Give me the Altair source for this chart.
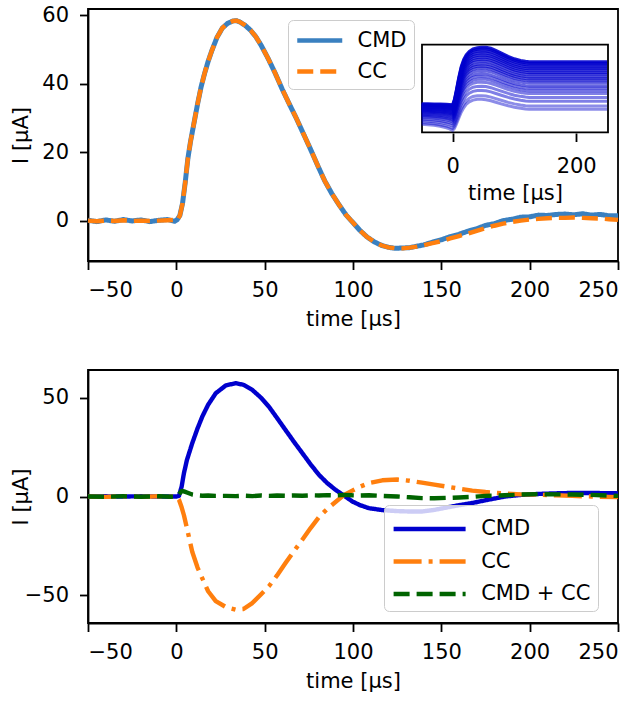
import altair as alt
import pandas as pd

FONT = "DejaVu Sans"

# ---------------- top panel data ----------------
top_t = [-50, -45, -40, -35, -30, -25, -20, -15, -10, -5, -1, 0.5, 2, 3.5, 5, 6.5, 8, 10, 12, 14,
         16, 18, 20, 23, 26, 29, 32, 34, 36, 39, 42, 45, 48, 52, 56, 60, 64, 68, 72, 76,
         80, 84, 88, 92, 96, 100, 104, 108, 112, 116, 120, 124, 128, 132, 136, 140, 145, 150, 155, 160,
         165, 170, 175, 180, 185, 190, 195, 200, 205, 210, 215, 220, 225, 230, 235, 240, 245, 250]
top_cmd = [0.1, -0.3, 0.2, -0.2, 0.3, -0.1, 0.2, -0.3, 0.1, 0.3, -0.2, 0.3, 1.5, 5.0, 11.0, 18.0, 23.0, 28.5, 34.0, 39.0,
           43.0, 46.5, 49.5, 53.5, 56.2, 57.6, 58.3, 58.4, 58.0, 57.0, 55.6, 53.7, 51.2, 47.3, 43.0, 38.3, 34.0, 29.8, 25.3, 20.8,
           16.1, 11.6, 7.9, 4.7, 1.7, -0.6, -2.9, -4.8, -6.2, -7.2, -7.8, -8.1, -8.0, -7.9, -7.5, -7.1, -6.3, -5.6, -4.7, -4.0,
           -3.1, -2.4, -1.4, -0.9, 0.0, 0.4, 1.0, 1.1, 1.6, 1.5, 1.8, 1.9, 1.7, 2.0, 1.6, 1.8, 1.4, 1.4]
top_cc = [0.0, -0.2, 0.0, -0.1, 0.1, -0.1, 0.0, -0.1, 0.0, 0.1, 0.2, 0.0, 1.5, 5.0, 11.0, 18.0, 23.0, 28.5, 34.0, 39.0,
          43.0, 46.5, 49.5, 53.5, 56.2, 57.6, 58.3, 58.4, 58.0, 57.0, 55.6, 53.7, 51.2, 47.3, 43.0, 38.3, 34.0, 29.8, 25.3, 20.8,
          16.1, 11.6, 7.9, 4.7, 1.7, -0.6, -2.9, -4.8, -6.2, -7.2, -7.8, -8.1, -8.1, -7.9, -7.6, -7.2, -6.6, -6.0, -5.2, -4.5,
          -3.8, -3.0, -2.2, -1.5, -0.9, -0.4, 0.0, 0.3, 0.5, 0.7, 0.8, 0.8, 0.9, 0.8, 0.7, 0.6, 0.4, 0.2]

# ---------------- bottom panel data ----------------
bot_t = [-50, -40, -30, -20, -10, -3, 0, 1.5, 3, 4.3, 6, 9, 12, 14.7, 18, 22.3, 28, 33.6, 38, 43,
         48, 52.4, 57, 61.8, 66.5, 71.3, 76, 80.7, 85.4, 90.1, 95, 99.6, 104, 109, 116.6, 125, 132, 139, 146, 153,
         160, 167.5, 175, 186, 195, 205, 215, 224, 235, 250]
bot_cmd = [0.0, 0.1, 0.0, 0.1, 0.0, 0.0, 0.0, 0.3, 5.0, 11.8, 18.5, 27.0, 34.5, 40.5, 46.5, 52.3, 56.3, 57.4, 56.6, 54.0,
           50.0, 45.5, 39.8, 33.7, 27.8, 22.0, 16.3, 11.0, 6.8, 3.4, 0.4, -2.5, -4.4, -5.9, -6.9, -7.4, -7.6, -7.6, -6.8, -5.6,
           -4.4, -3.3, -1.9, 0.0, 0.8, 1.3, 1.6, 1.8, 1.8, 1.6]
bot_cc = [0.0, -0.2, 0.1, -0.2, 0.1, -0.1, 0.0, -1.7, -5.5, -9.5, -16.0, -28.0, -36.0, -41.5, -48.0, -53.0, -56.0, -57.3, -57.0, -54.0,
          -49.5, -45.5, -40.0, -33.7, -27.8, -21.9, -16.0, -10.5, -6.3, -2.8, 0.8, 3.0, 5.0, 6.8, 8.2, 8.6, 8.0, 7.0, 6.0, 5.0,
          4.0, 3.0, 2.3, 1.5, 1.1, 0.9, 0.6, 0.3, 0.0, -0.3]
bot_sum = [0.0, -0.1, 0.1, -0.1, 0.1, -0.1, 0.0, 1.2, 2.8, 2.6, 2.0, 1.0, 0.6, 0.4, 0.5, 0.3, 0.3, 0.2, 0.4, 0.2,
           0.5, 0.3, 0.5, 0.4, 0.5, 0.4, 0.6, 0.5, 0.7, 0.6, 0.8, 0.6, 0.5, 0.6, 0.3, 0.0, -0.4, -0.8, -0.9, -0.7,
           -0.5, -0.2, 0.3, 0.6, 1.0, 1.2, 1.1, 1.0, 0.8, 0.3]

# ---------------- inset data ----------------
inset_t = [-50, -40, -30, -20, -10, -5, 0, 3, 6, 10, 14, 18, 22, 27, 33, 40, 47, 54, 62, 70,
           80, 90, 100, 110, 118, 124, 140, 160, 180, 200, 220, 240, 250]
inset_upper = [28.5, 28.5, 28.3, 28.3, 28.0, 27.8, 27.5, 33.0, 42.0, 55.0, 66.0, 73.0, 77.5, 81.0, 83.5, 84.6, 85.0, 85.0, 84.0, 82.0,
               79.0, 76.0, 73.5, 71.8, 71.0, 70.6, 70.6, 70.6, 70.6, 70.6, 70.6, 70.6, 70.6]
inset_lower = [8.0, 7.5, 7.0, 6.0, 4.5, 3.5, 2.0, 4.0, 8.0, 14.0, 20.0, 24.5, 28.0, 30.5, 32.2, 33.0, 33.0, 32.6, 31.5, 30.0,
               28.2, 26.5, 25.0, 24.0, 23.3, 23.0, 23.0, 23.0, 23.0, 23.0, 23.0, 23.0, 23.0]
inset_weights = [0.0, 0.07, 0.17, 0.25, 0.33, 0.39, 0.44, 0.49, 0.55, 0.60, 0.64, 0.68, 0.73, 0.77, 0.81, 0.85, 0.89, 0.93, 0.97, 1.0]
inset_alpha = [0.45, 0.45, 0.5, 0.5, 0.5, 0.55, 0.55, 0.6, 0.6, 0.65, 0.65, 0.7, 0.7, 0.75, 0.75, 0.8, 0.8, 0.85, 0.9, 0.9]

BLUE_TOP = "#3a80c0"
ORANGE = "#ff7f0e"
MBLUE = "#0000cd"
GREEN = "#006400"
FS = 21

# ---------------- frames ----------------
df_top_cmd = pd.DataFrame({"t": top_t, "v": top_cmd, "series": "CMD"})
df_top_cc = pd.DataFrame({"t": top_t, "v": top_cc, "series": "CC"})

rows = []
for k, (w, a) in enumerate(zip(inset_weights, inset_alpha)):
    for t, lo, up in zip(inset_t, inset_lower, inset_upper):
        rows.append({"t": t, "h": lo + w * (up - lo), "k": k, "a": a})
df_inset = pd.DataFrame(rows)
INSET_X = [-49.5, 251.5]
INSET_Y = [0, 87.6]
df_box = pd.DataFrame({"t": [INSET_X[0]], "t2": [INSET_X[1]], "h": [INSET_Y[0]], "h2": [INSET_Y[1]]})

df_bot = pd.concat([
    pd.DataFrame({"t": bot_t, "v": bot_cmd, "series": "CMD"}),
    pd.DataFrame({"t": bot_t, "v": bot_cc, "series": "CC"}),
    pd.DataFrame({"t": bot_t, "v": bot_sum, "series": "CMD + CC"}),
])

W = 530
H_TOP = 252
H_BOT = 253


def legend(x, y, line_len, stretch, gap, row_pad):
    # a long horizontal stroke symbol: path spans [-stretch, stretch] in symbol units
    d = line_len / stretch
    return alt.Legend(title=None, orient="none", legendX=x, legendY=y,
                      symbolType=f"M-{stretch},0H{stretch}", symbolSize=d * d, symbolStrokeWidth=4.5,
                      symbolOffset=(stretch - 1) * d / 2, labelOffset=(stretch - 1) * d / 2 + gap - 4,
                      rowPadding=row_pad,
                      labelFontSize=FS, labelFont=FONT, labelColor="black",
                      fillColor="rgba(255,255,255,0.8)", strokeColor="#cccccc",
                      cornerRadius=5, padding=7)


x_main = alt.X("t:Q", scale=alt.Scale(domain=[-50, 250], nice=False, zero=False),
               axis=alt.Axis(values=[-50, 0, 50, 100, 150, 200, 250], title="time [μs]"))

# top
top_dom = ["CMD", "CC"]
top_leg = legend(200, 11, 45, 2, 17, 7)
top_color = alt.Color("series:N", scale=alt.Scale(domain=top_dom, range=[BLUE_TOP, ORANGE]), legend=top_leg)
top_dash = alt.StrokeDash("series:N", scale=alt.Scale(domain=top_dom, range=[[1, 0], [16, 7]]), legend=top_leg)
y_top = alt.Y("v:Q", scale=alt.Scale(domain=[-11.8, 61.8], nice=False, zero=False),
              axis=alt.Axis(values=[0, 20, 40, 60], title="I [μA]", titleX=-67, titleBaseline="middle"))

cmd_line = alt.Chart(df_top_cmd).mark_line(strokeWidth=5, strokeJoin="round").encode(
    x=x_main, y=y_top, color=top_color, strokeDash=top_dash)
cc_line = alt.Chart(df_top_cc).mark_line(strokeWidth=4.4, strokeJoin="round").encode(
    x=x_main, y=y_top, color=top_color, strokeDash=top_dash)
main_top = alt.layer(cmd_line, cc_line)

xi_axis = alt.Axis(orient="bottom", offset=-128, values=[0, 200], domain=False, grid=False,
                   title="time [μs]", labelPadding=14, titlePadding=6)
xi_scale = alt.Scale(domain=INSET_X, range=[334, 520], nice=False, zero=False)
yi_scale = alt.Scale(domain=INSET_Y, range=[123.3, 35.7], nice=False, zero=False)
box = alt.Chart(df_box).mark_rect(fill="white", stroke="black", strokeWidth=1.8).encode(
    x=alt.X("t:Q", scale=xi_scale, axis=xi_axis), x2="t2",
    y=alt.Y("h:Q", scale=yi_scale, axis=None), y2="h2")
ilines = alt.Chart(df_inset).mark_line(strokeWidth=3, color=MBLUE).encode(
    x=alt.X("t:Q", scale=xi_scale, axis=xi_axis),
    y=alt.Y("h:Q", scale=yi_scale, axis=None),
    detail="k:N",
    opacity=alt.Opacity("a:Q", scale=None),
    order=alt.Order("k:Q"))
inset = alt.layer(box, ilines)

top = alt.layer(main_top, inset).resolve_scale(x="independent", y="independent").properties(width=W, height=H_TOP)

# bottom
bot_dom = ["CMD", "CC", "CMD + CC"]
bot_leg = legend(296, 135, 72, 2.5, 17, 5.5)
bot_color = alt.Color("series:N", scale=alt.Scale(domain=bot_dom, range=[MBLUE, ORANGE, GREEN]), legend=bot_leg)
bot_dash = alt.StrokeDash("series:N", scale=alt.Scale(domain=bot_dom, range=[[1, 0], [28, 7, 4, 7], [16, 7]]),
                          legend=bot_leg)
y_bot = alt.Y("v:Q", scale=alt.Scale(domain=[-64.1, 64.1], nice=False, zero=False),
              axis=alt.Axis(values=[-50, 0, 50], title="I [μA]", titleX=-67, titleBaseline="middle"))
bot_layers = []
for s in bot_dom:
    bot_layers.append(
        alt.Chart(df_bot[df_bot.series == s]).mark_line(strokeWidth=4.4, strokeJoin="round").encode(
            x=x_main, y=y_bot, color=bot_color, strokeDash=bot_dash))
bottom = alt.layer(*bot_layers).properties(width=W, height=H_BOT)

chart = alt.vconcat(top, bottom, spacing=38).resolve_scale(
    color="independent", strokeDash="independent"
).resolve_legend(color="independent", strokeDash="independent").properties(
    padding={"left": 9, "top": 3, "right": 0, "bottom": 0},
    background="white",
).configure_view(stroke="black", strokeWidth=1.8).configure_axis(
    domainColor="black", domainWidth=1.8, tickColor="black", tickWidth=1.8, tickSize=8.5,
    labelFont=FONT, labelFontSize=FS, labelColor="black",
    titleFont=FONT, titleFontSize=FS, titleFontWeight="normal", titleColor="black",
    titlePadding=8, grid=False
).configure_axisX(labelPadding=10).configure_axisY(labelPadding=11)

chart.save("out.html", embed_options={"renderer": "svg", "actions": False})
